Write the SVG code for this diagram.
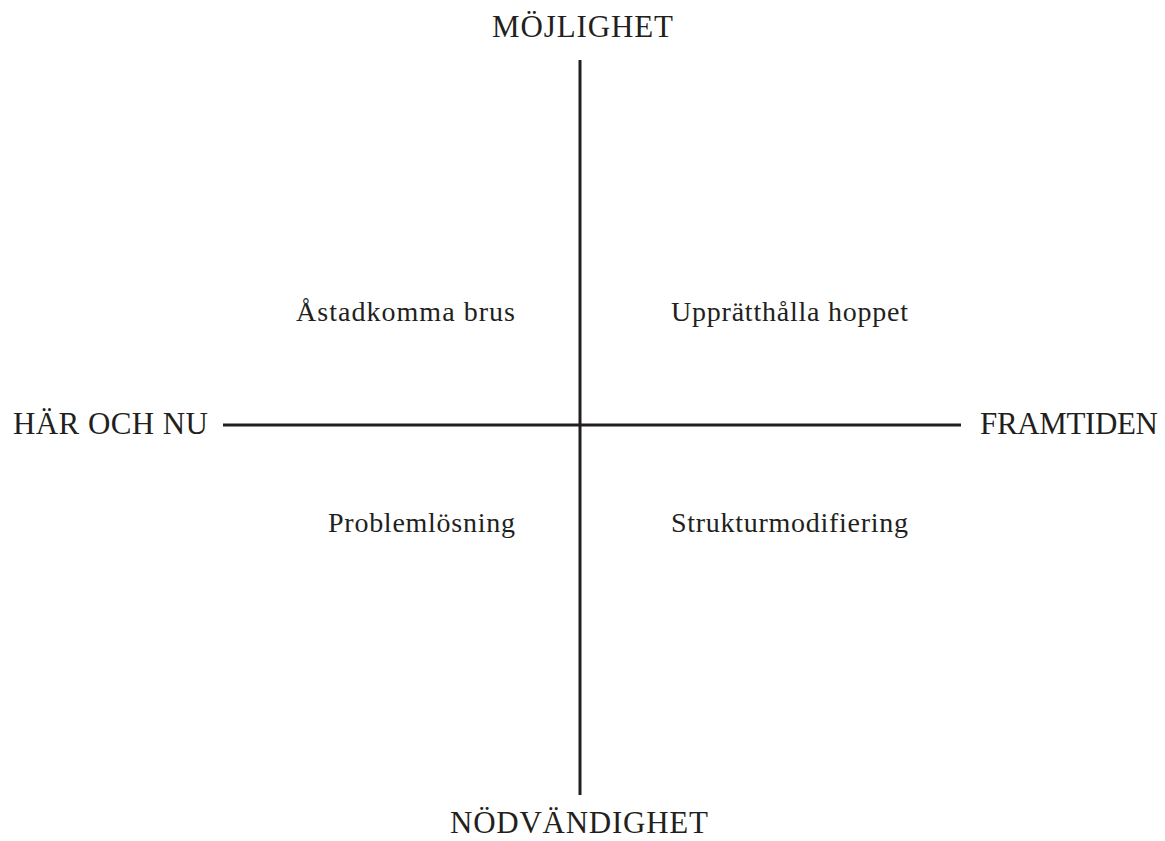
<svg xmlns="http://www.w3.org/2000/svg" width="1165" height="841" viewBox="0 0 1165 841">
<style>
.axis{stroke:#231f20;stroke-width:3;fill:none}
.lbl{font-family:"Liberation Serif",serif;font-size:31px;fill:#231f20}
.q{font-family:"Liberation Serif",serif;font-size:28px;fill:#231f20}
</style>
<rect width="1165" height="841" fill="#fff"/>
<g id="connectors">
<line class="axis" x1="580" y1="60" x2="580" y2="795"/>
<line class="axis" x1="223" y1="425" x2="961" y2="425"/>
</g>
<g id="top"><text class="lbl" x="492" y="37" textLength="181" lengthAdjust="spacing">MÖJLIGHET</text></g>
<g id="bottom"><text class="lbl" x="450" y="833" font-size="30" textLength="258" lengthAdjust="spacing">NÖDVÄNDIGHET</text></g>
<g id="left"><text class="lbl" x="13" y="434" textLength="195" lengthAdjust="spacing">HÄR OCH NU</text></g>
<g id="right"><text class="lbl" x="980" y="434" textLength="178" lengthAdjust="spacing">FRAMTIDEN</text></g>
<g id="q1"><text class="q" x="296" y="321" textLength="219" lengthAdjust="spacing">Åstadkomma brus</text></g>
<g id="q2"><text class="q" x="671" y="321" textLength="237" lengthAdjust="spacing">Upprätthålla hoppet</text></g>
<g id="q3"><text class="q" x="328" y="532" textLength="187" lengthAdjust="spacing">Problemlösning</text></g>
<g id="q4"><text class="q" x="671" y="532" textLength="237" lengthAdjust="spacing">Strukturmodifiering</text></g>
</svg>
